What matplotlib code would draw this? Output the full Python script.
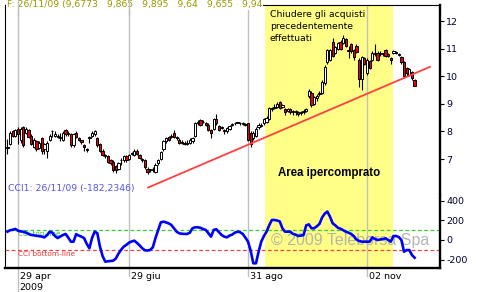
import numpy as np
import pandas as pd
import matplotlib
matplotlib.use('Agg')
import matplotlib.pyplot as plt

# trading days (Borsa closed on 1 May)
dates = pd.bdate_range('2009-04-23', '2009-11-26').drop(pd.Timestamp('2009-05-01'))

opens = [7.42, 7.55, 8.00, 7.85, 8.10, 7.70, 8.15, 7.95, 8.05, 7.85,
         7.45, 7.65, 7.40, 7.75, 7.35, 7.30, 7.70, 8.00, 7.85, 7.85,
         7.80, 7.70, 8.05, 7.90, 7.90, 7.50, 7.95, 7.75, 7.68, 7.50,
         7.35, 7.75, 7.85, 7.90, 7.75, 7.55, 7.30, 7.15, 7.10, 6.95,
         6.90, 6.75, 6.65, 6.95, 6.95, 7.10, 7.00, 7.20, 7.15, 7.30,
         7.15, 7.00, 6.95, 6.65, 6.60, 6.60, 6.55, 6.85, 7.00, 7.35,
         7.65, 7.80, 7.85, 7.95, 7.80, 7.70, 7.62, 7.60, 7.55, 7.60,
         7.65, 7.85, 8.35, 8.40, 8.35, 8.30, 8.25, 8.05, 8.10, 8.45,
         8.20, 8.15, 8.05, 8.00, 8.10, 8.25, 8.30, 8.33, 8.32, 8.30,
         8.28, 8.30, 7.95, 7.75, 7.85, 8.15, 8.20, 8.30, 8.35, 8.45,
         8.80, 8.85, 8.90, 9.05, 8.90, 8.80, 8.75, 8.82, 8.72, 8.70,
         8.70, 8.68, 8.72, 8.75, 9.30, 9.40, 9.00, 9.20, 9.35, 9.40,
         9.75, 10.50, 10.60, 11.25, 10.85, 11.00, 11.25, 11.20, 11.35, 10.95,
         11.15, 10.95, 11.10, 10.60, 9.90, 10.65, 10.10, 10.55, 10.60, 10.80,
         10.85, 10.80, 10.82, 10.95, 10.80, 10.65, 10.85, 10.85, 10.80, 10.70,
         10.50, 10.30, 10.05, 10.15, 9.865]
highs = [7.72, 8.00, 8.05, 8.10, 8.15, 8.15, 8.20, 8.15, 8.10, 7.90,
         7.75, 7.70, 7.65, 7.80, 7.60, 7.65, 7.90, 8.05, 8.00, 7.90,
         7.95, 8.00, 8.10, 8.00, 7.95, 7.95, 8.00, 7.80, 7.70, 7.55,
         7.40, 7.85, 8.00, 8.05, 7.80, 7.60, 7.35, 7.20, 7.15, 7.00,
         6.95, 6.80, 6.90, 7.05, 7.15, 7.15, 7.20, 7.25, 7.35, 7.35,
         7.20, 7.05, 7.00, 6.70, 6.65, 6.70, 6.85, 7.00, 7.30, 7.70,
         7.80, 7.85, 7.90, 8.05, 7.85, 7.75, 7.70, 7.65, 7.70, 7.75,
         7.80, 8.35, 8.40, 8.45, 8.40, 8.35, 8.30, 8.10, 8.50, 8.65,
         8.25, 8.20, 8.10, 8.15, 8.25, 8.30, 8.35, 8.35, 8.35, 8.35,
         8.30, 8.32, 8.00, 8.00, 8.15, 8.30, 8.30, 8.50, 8.55, 8.90,
         8.90, 9.00, 9.05, 9.10, 9.00, 8.85, 8.85, 8.85, 8.78, 8.78,
         8.75, 8.75, 8.80, 8.85, 9.55, 9.45, 9.30, 9.35, 9.45, 9.85,
         10.40, 11.00, 11.00, 11.40, 11.10, 11.25, 11.30, 11.50, 11.40, 11.10,
         11.20, 11.00, 11.15, 10.65, 10.75, 10.70, 10.65, 10.60, 10.90, 11.15,
         10.90, 10.90, 10.85, 11.00, 10.85, 10.70, 10.95, 10.90, 10.85, 10.75,
         10.55, 10.35, 10.30, 10.20, 9.895]
lows = [7.18, 7.50, 7.80, 7.80, 7.55, 7.60, 7.45, 7.90, 7.75, 7.50,
        7.40, 7.30, 7.35, 7.20, 7.20, 7.05, 7.65, 7.80, 7.80, 7.75,
        7.65, 7.65, 7.85, 7.85, 7.45, 7.45, 7.75, 7.65, 7.55, 7.30,
        7.25, 7.60, 7.80, 7.85, 7.45, 7.25, 7.10, 7.05, 6.85, 6.80,
        6.55, 6.50, 6.60, 6.80, 6.90, 6.90, 6.95, 7.15, 7.10, 7.15,
        7.00, 6.90, 6.65, 6.45, 6.55, 6.55, 6.50, 6.80, 6.95, 7.30,
        7.60, 7.65, 7.75, 7.75, 7.70, 7.55, 7.55, 7.50, 7.50, 7.55,
        7.60, 7.80, 8.25, 8.20, 8.30, 8.20, 8.00, 7.75, 8.05, 8.25,
        8.00, 8.10, 7.90, 7.95, 8.05, 8.20, 8.25, 8.30, 8.25, 8.25,
        8.20, 7.65, 7.45, 7.70, 7.80, 8.10, 8.15, 8.25, 8.30, 8.40,
        8.75, 8.80, 8.85, 8.80, 8.85, 8.60, 8.70, 8.65, 8.60, 8.60,
        8.55, 8.60, 8.65, 8.70, 9.20, 8.90, 8.95, 9.10, 9.30, 9.35,
        9.70, 10.45, 10.55, 10.70, 10.80, 10.95, 10.95, 11.15, 11.05, 10.65,
        10.85, 10.60, 10.85, 9.60, 9.50, 10.40, 10.05, 10.25, 10.55, 10.75,
        10.55, 10.75, 10.75, 10.70, 10.70, 10.45, 10.80, 10.80, 10.75, 10.45,
        9.95, 10.00, 10.00, 9.85, 9.64]
closes = [7.40, 7.95, 7.85, 8.05, 7.90, 8.10, 7.50, 8.10, 7.80, 7.55,
          7.70, 7.35, 7.60, 7.30, 7.55, 7.60, 7.85, 8.02, 7.90, 7.80,
          7.75, 7.95, 7.90, 7.95, 7.50, 7.90, 7.80, 7.70, 7.62, 7.45,
          7.33, 7.80, 7.95, 8.00, 7.50, 7.30, 7.15, 7.10, 6.90, 6.85,
          6.60, 6.60, 6.85, 6.97, 7.10, 6.95, 7.15, 7.22, 7.30, 7.20,
          7.05, 6.95, 6.70, 6.55, 6.60, 6.62, 6.80, 6.95, 7.25, 7.65,
          7.75, 7.70, 7.80, 7.80, 7.75, 7.60, 7.60, 7.55, 7.60, 7.70,
          7.75, 8.30, 8.30, 8.25, 8.33, 8.25, 8.05, 7.95, 8.45, 8.30,
          8.05, 8.12, 8.00, 8.12, 8.20, 8.27, 8.30, 8.32, 8.30, 8.28,
          8.25, 7.70, 7.55, 7.95, 8.10, 8.25, 8.25, 8.45, 8.50, 8.85,
          8.85, 8.90, 9.00, 8.85, 8.95, 8.70, 8.82, 8.70, 8.70, 8.72,
          8.65, 8.70, 8.75, 8.80, 9.45, 8.95, 9.25, 9.30, 9.40, 9.80,
          10.35, 10.95, 10.95, 10.75, 11.05, 11.20, 11.00, 11.40, 11.10, 10.90,
          10.90, 10.70, 10.88, 9.90, 10.70, 10.45, 10.60, 10.30, 10.85, 10.85,
          10.60, 10.85, 10.80, 10.75, 10.75, 10.60, 10.90, 10.87, 10.78, 10.50,
          10.00, 10.10, 10.25, 9.95, 9.655]

cci = [85, 100, 105, 113, 95, 88, 85, 75, 62, 52,
       48, 44, 41, 35, 27, 50, 85, 75, 40, 20,
       35, 51, 62, 25, -17, -17, 60, 45, 34, 20,
       -40, -85, 20, 85, 70, -68, -164, -222, -218, -215,
       -212, -190, -140, -100, -68, -50, -27, -15, -7, -30,
       -55, -85, -105, -108, -102, -75, 20, 100, 180, 188,
       180, 170, 154, 120, 85, 68, 64, 62, 62, 75,
       120, 130, 130, 125, 112, 103, 70, 34, 103, 110,
       80, 51, 35, 27, 45, 55, 75, 85, 80, 62,
       25, -17, -110, -239, -239, -120, -17, 40, 85, 150,
       205, 205, 200, 190, 120, 85, 85, 85, 62, 55,
       41, 45, 51, 150, 160, 120, 120, 140, 164, 230,
       270, 291, 239, 171, 150, 125, 115, 100, 85, 75,
       62, 40, 5, -10, -17, -17, -17, -17, 27, 10,
       0, 5, 10, 17, 0, -17, 41, 41, 30, 0,
       -120, -103, -103, -154, -182]

tick_dates = ['2009-04-29', '2009-06-29', '2009-08-31', '2009-11-02']
tick_labels = ['29 apr\n2009', '29 giu', '31 ago', '02 nov']
price_ticks = [7, 8, 9, 10, 11, 12]
cci_ticks = [-200, 0, 200, 400]
cci_top, cci_bottom = 100, -100

trend_idx = [53.2, 159.8]
trend_val = [5.97, 10.34]
overbought = (97.4, 145.8)

header = 'F: 26/11/09 (9,6773   9,865   9,895   9,64   9,655   9,94'
cci_title = 'CCI1: 26/11/09 (-182,2346)'

o = np.array(opens)
h = np.array(highs)
l = np.array(lows)
c = np.array(closes)
x = np.arange(len(c))
tick_idx = [dates.get_loc(pd.Timestamp(d)) for d in tick_dates]

plt.rcParams['font.family'] = 'DejaVu Sans'
fig = plt.figure(figsize=(4.8, 2.92), dpi=100)
W, H = 480, 292
ax = fig.add_axes([5/W, 1-195/H, 435/W, 190/H])
ax2 = fig.add_axes([5/W, 1-268/H, 435/W, 73/H], sharex=ax)

xlim = (-0.91, 163.6)
for a in (ax, ax2):
    a.axvspan(*overbought, color='#ffff88', lw=0, zorder=0)
    for t in tick_idx:
        a.axvline(t, color='#c0c0c0', lw=1, zorder=1)
    a.yaxis.tick_right()
    a.tick_params(axis='y', length=3, width=0.8, pad=1.5, labelsize=6.8,
                  labelcolor='#000030')
    a.tick_params(axis='x', length=0, labelbottom=False)
    a.spines['left'].set_linewidth(0.8)
    a.spines['right'].set_linewidth(1.7)

ax.spines['bottom'].set_visible(False)
ax.spines['top'].set_linewidth(0.8)
ax2.spines['top'].set_visible(False)
ax2.spines['bottom'].set_linewidth(1.7)

# candles
ax.vlines(x, l, h, color='black', lw=0.8, zorder=3)
body = np.maximum(np.abs(c - o), 0.025)
ax.bar(x, body, bottom=np.minimum(o, c), width=0.85,
       color=np.where(c >= o, 'white', '#ee0000'), edgecolor='black',
       lw=0.7, zorder=4)
ax.plot(trend_idx, trend_val, color='#ff4040', lw=1.3, zorder=5)
ax.set_xlim(*xlim)
ax.set_ylim(5.70, 12.58)
ax.set_yticks(price_ticks)
ax.set_yticklabels([str(v) for v in price_ticks])

ax.text(2/435, 1.0, header, transform=ax.transAxes, fontsize=6.7,
        color='#999900', va='center', ha='left', zorder=6,
        bbox=dict(facecolor='white', edgecolor='none', pad=0.5))
# gridlines run through the header strip
for t in tick_idx[:2]:
    ax.axvline(t, ymin=0.95, ymax=1.026, color='#c0c0c0', lw=1,
               zorder=7, clip_on=False)
ax.text(0.609, 0.975, 'Chiudere gli acquisti\nprecedentemente\neffettuati',
        transform=ax.transAxes, fontsize=6.7, va='top', ha='left',
        linespacing=1.45, zorder=6)
ax.text(0.745, 0.116, 'Area ipercomprato', transform=ax.transAxes,
        fontsize=8.3, fontweight='bold', family='Liberation Sans',
        ha='center', va='center', zorder=6)
ax.text(0.007, 0.034, cci_title, transform=ax.transAxes, fontsize=6.7,
        color='#5555ee', ha='left', va='center', zorder=6)

# CCI panel
ax2.axhline(cci_top, color='#33cc33', lw=0.9, ls=(0, (3, 2)), zorder=2)
ax2.axhline(cci_bottom, color='#ee4444', lw=0.9, ls=(0, (3, 2)), zorder=2)
ax2.text(tick_idx[0], cci_top - 8, 'CCI top-line', color='#33bb33',
         fontsize=5.3, va='top', ha='left', zorder=3)
ax2.text(tick_idx[0], cci_bottom - 8, 'CCI bottom-line', color='#ee3333',
         fontsize=5.3, va='top', ha='left', zorder=3)
ax2.text(0.793, 0.37, '\u00a9 2009 Teleborsa Spa', transform=ax2.transAxes,
         fontsize=11.5, family='Liberation Sans', color='#a8a8a8',
         alpha=0.85, ha='center', va='center', zorder=3)
ax2.plot(x, cci, color='#0000ff', lw=1.9, zorder=4)
ax2.set_ylim(-287, 461)
ax2.set_yticks(cci_ticks)
ax2.set_yticklabels([str(v) for v in cci_ticks])

for t, lab in zip(tick_idx, tick_labels):
    ext = -0.33 if '\n' in lab else -0.11
    ax2.axvline(t, ymin=ext, ymax=0, color='#c0c0c0', lw=1, clip_on=False)
    ax2.text(t + 0.6, -0.06, lab, transform=ax2.get_xaxis_transform(),
             fontsize=6.8, va='top', ha='left', linespacing=1.2)

fig.savefig('out.png', dpi=100)
